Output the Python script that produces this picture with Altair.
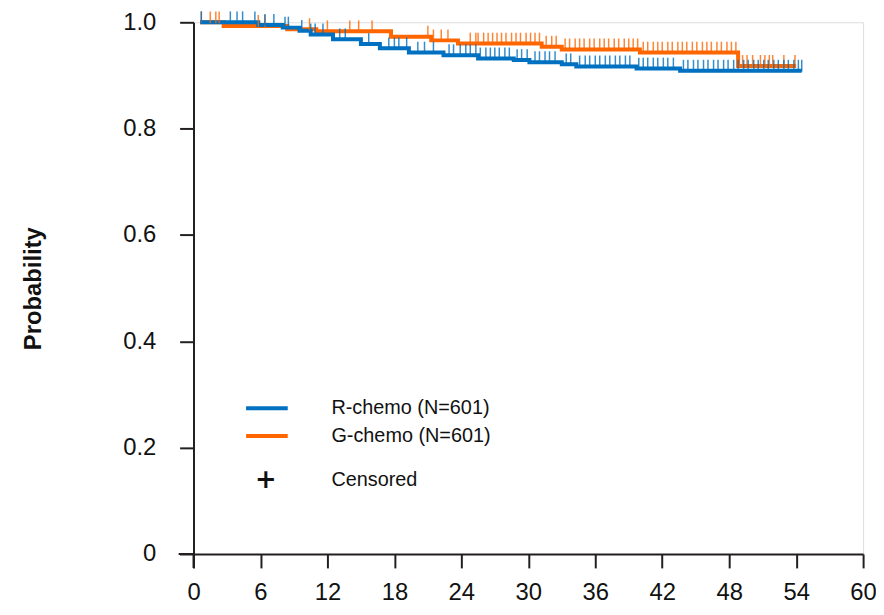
import altair as alt
import pandas as pd
import numpy as np

# ---- data ----
series_names = ["R-chemo (N=601)", "G-chemo (N=601)"]
series_colors = ["#0070C0", "#FF6600"]

r_times = [0.6, 5.8, 8.0, 9.5, 10.5, 12.5, 15.0, 16.7, 19.3, 22.4, 25.5, 28.7, 30.1, 33.0, 34.3, 39.7, 43.6]
r_surv  = [1.0, 0.995, 0.99, 0.984, 0.977, 0.968, 0.959, 0.951, 0.943, 0.938, 0.932, 0.929, 0.925, 0.921, 0.917, 0.913, 0.909]
r_end = 54.5

g_times = [0.6, 2.7, 8.4, 11.0, 17.7, 21.3, 23.7, 31.2, 33.0, 40.0, 48.8]
g_surv  = [1.0, 0.993, 0.987, 0.983, 0.973, 0.966, 0.960, 0.954, 0.949, 0.943, 0.918]
g_end = 54.0

r_censor = [0.7, 3.3, 3.9, 4.4, 5.5, 6.4, 7.2, 8.2, 8.5, 9.7, 10.5, 10.9, 11.6, 13.1, 13.6, 15.7, 17.5, 18.0,
            18.4, 19.1, 20.1, 20.7, 21.5, 22.9, 23.3, 23.9, 24.4, 24.8, 25.3, 25.7, 26.2, 26.6, 27.0, 27.4,
            27.9, 28.3, 29.0, 29.4, 29.9, 30.6, 31.0, 31.5, 31.9, 32.4, 33.4, 33.8, 34.6, 35.1, 35.5, 36.0,
            36.4, 36.9, 37.3, 37.8, 38.2, 38.7, 39.1, 39.9, 40.3, 40.7, 41.2, 41.6, 42.1, 42.5, 43.0, 43.9,
            44.3, 44.8, 45.2, 45.7, 46.1, 46.6, 47.0, 47.5, 47.9, 48.4, 48.8, 49.3, 49.7, 50.2, 50.6, 51.1,
            51.5, 52.0, 52.4, 52.9, 53.3, 53.8, 54.2, 54.5]
g_censor = [0.7, 1.5, 2.0, 2.3, 5.8, 6.4, 10.4, 12.0, 14.0, 14.8, 16.0, 21.0, 21.5, 22.2, 22.8, 24.8, 25.3,
            25.5, 26.0, 26.4, 26.8, 27.2, 27.6, 28.0, 28.5, 28.9, 29.3, 29.8, 30.2, 30.6, 31.0, 31.6, 32.1,
            32.5, 33.3, 33.7, 34.2, 34.6, 35.0, 35.5, 35.9, 36.4, 36.8, 37.2, 37.7, 38.1, 38.6, 39.0, 39.4,
            39.8, 40.3, 40.7, 41.2, 41.6, 42.0, 42.5, 42.9, 43.4, 43.8, 44.2, 44.7, 45.1, 45.6, 46.0, 46.4,
            46.9, 47.3, 47.8, 48.2, 48.6, 49.2, 49.6, 50.1, 50.8, 51.2, 51.6, 51.9, 52.9, 53.9]

x_ticks = [0, 6, 12, 18, 24, 30, 36, 42, 48, 54, 60]
y_ticks = [0, 0.2, 0.4, 0.6, 0.8, 1.0]
legend_censor_label = "Censored"

FONT = "Liberation Sans, Arial, sans-serif"
AXIS_COLOR = "#231f20"

# ---- build tables ----
def step_table(name, times, surv, end):
    t = list(times) + [end]
    s = list(surv) + [surv[-1]]
    return pd.DataFrame({"time": t, "surv": s, "group": name})

def censor_table(name, times, surv, ctimes):
    idx = np.searchsorted(np.array(times), np.array(ctimes), side="right") - 1
    idx = np.clip(idx, 0, len(surv) - 1)
    return pd.DataFrame({"time": ctimes, "surv": [surv[i] for i in idx], "group": name})

lines = pd.concat([step_table(series_names[0], r_times, r_surv, r_end),
                   step_table(series_names[1], g_times, g_surv, g_end)])
cens = pd.concat([censor_table(series_names[0], r_times, r_surv, r_censor),
                  censor_table(series_names[1], g_times, g_surv, g_censor)])

W, H = 675, 536

xscale = alt.Scale(domain=[0, 60], nice=False, zero=False)
yscale = alt.Scale(domain=[0, 1], nice=False)
cscale = alt.Scale(domain=series_names, range=series_colors)

x_axis = alt.Axis(values=x_ticks, title=None, labelFont=FONT, labelFontSize=24, labelColor="#111",
                  domainColor=AXIS_COLOR, domainWidth=2, tickColor=AXIS_COLOR, tickWidth=2, tickSize=14,
                  labelPadding=13, grid=False, labelFlush=False)
y_axis = alt.Axis(values=y_ticks, title="Probability", titleFont=FONT, titleFontSize=24,
                  titleFontWeight="bold", titleColor="#111", titlePadding=78,
                  labelFont=FONT, labelFontSize=24, labelColor="#111",
                  labelExpr="datum.value == 0 ? '0' : format(datum.value, '.1f')",
                  domainColor=AXIS_COLOR, domainWidth=2, tickColor=AXIS_COLOR, tickWidth=2, tickSize=14,
                  labelPadding=24, grid=False)

base_lines = alt.Chart(lines).encode(
    x=alt.X("time:Q", scale=xscale, axis=x_axis),
    y=alt.Y("surv:Q", scale=yscale, axis=y_axis),
    color=alt.Color("group:N", scale=cscale, legend=None),
)
orange_line = base_lines.transform_filter(alt.datum.group == series_names[1]).mark_line(
    interpolate="step-after", strokeWidth=4)
blue_line = base_lines.transform_filter(alt.datum.group == series_names[0]).mark_line(
    interpolate="step-after", strokeWidth=4)

cens_base = alt.Chart(cens).encode(
    x=alt.X("time:Q", scale=xscale),
    y=alt.Y("surv:Q", scale=yscale),
    color=alt.Color("group:N", scale=cscale, legend=None),
)
orange_cens = cens_base.transform_filter(alt.datum.group == series_names[1]).mark_tick(
    orient="vertical", size=12, thickness=1.5, yOffset=-5, opacity=0.8)
blue_cens = cens_base.transform_filter(alt.datum.group == series_names[0]).mark_tick(
    orient="vertical", size=12, thickness=1.5, yOffset=-5, opacity=0.8)

# axis crossing extensions
ext_df = pd.DataFrame({"k": [0]})
ext_h = alt.Chart(ext_df).mark_rule(color=AXIS_COLOR, strokeWidth=2).encode(
    x=alt.value(-15), x2=alt.value(0), y=alt.value(H))
ext_v = alt.Chart(ext_df).mark_rule(color=AXIS_COLOR, strokeWidth=2).encode(
    x=alt.value(0), y=alt.value(H), y2=alt.value(H + 14))

# legend
leg_df = pd.DataFrame({"label": series_names, "color": series_colors, "ypix": [389, 417]})
leg_lines = alt.Chart(leg_df).mark_rule(strokeWidth=4).encode(
    x=alt.value(53), x2=alt.value(95), y=alt.Y("ypix:Q", scale=None),
    color=alt.Color("color:N", scale=None))
leg_text = alt.Chart(leg_df).mark_text(align="left", baseline="middle", font=FONT, fontSize=20,
                                       color="#111").encode(
    x=alt.value(139), y=alt.Y("ypix:Q", scale=None), text="label:N")
cen_df = pd.DataFrame({"label": [legend_censor_label], "sym": ["+"], "ypix": [461]})
leg_plus = alt.Chart(cen_df).mark_text(align="center", baseline="middle", font="DejaVu Sans",
                                       fontSize=26, fontWeight="bold", color="#111").encode(
    x=alt.value(73), y=alt.Y("ypix:Q", scale=None), text="sym:N")
leg_ctext = alt.Chart(cen_df).mark_text(align="left", baseline="middle", font=FONT, fontSize=20,
                                        color="#111").encode(
    x=alt.value(139), y=alt.Y("ypix:Q", scale=None), text="label:N")

chart = alt.layer(
    orange_line, blue_line, orange_cens, blue_cens, ext_h, ext_v,
    leg_lines, leg_text, leg_plus, leg_ctext
).properties(
    width=W, height=H,
    autosize=alt.AutoSizeParams(type="none"),
    padding={"left": 187, "top": 12, "right": 13, "bottom": 51},
).configure_view(stroke=None).configure(background="white")

chart.save("out.html", embed_options={"renderer": "svg", "actions": False})
